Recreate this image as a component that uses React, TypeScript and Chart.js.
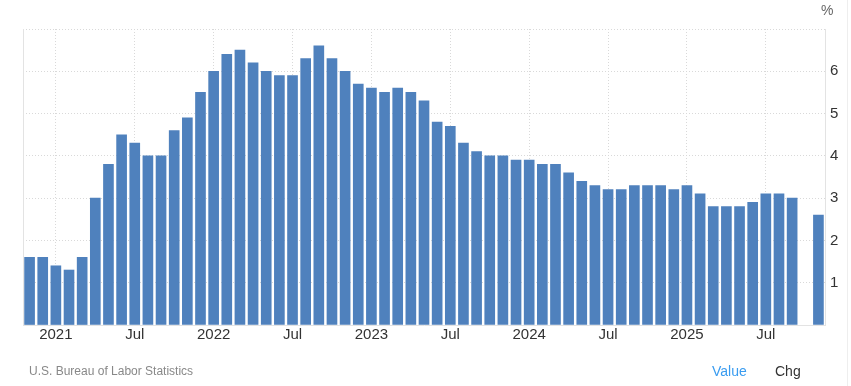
import React, { useEffect, useRef } from "react";
import { Chart, registerables } from "chart.js";

Chart.register(...registerables);

// Monthly categories, Nov 2020 .. Nov 2025
const months: string[] = [
  "2020-11", "2020-12",
  "2021-01", "2021-02", "2021-03", "2021-04", "2021-05", "2021-06", "2021-07", "2021-08", "2021-09", "2021-10", "2021-11", "2021-12",
  "2022-01", "2022-02", "2022-03", "2022-04", "2022-05", "2022-06", "2022-07", "2022-08", "2022-09", "2022-10", "2022-11", "2022-12",
  "2023-01", "2023-02", "2023-03", "2023-04", "2023-05", "2023-06", "2023-07", "2023-08", "2023-09", "2023-10", "2023-11", "2023-12",
  "2024-01", "2024-02", "2024-03", "2024-04", "2024-05", "2024-06", "2024-07", "2024-08", "2024-09", "2024-10", "2024-11", "2024-12",
  "2025-01", "2025-02", "2025-03", "2025-04", "2025-05", "2025-06", "2025-07", "2025-08", "2025-09", "2025-10", "2025-11",
];

// Core inflation rate, % YoY (Oct 2025 not published)
const values: (number | null)[] = [
  1.6, 1.6,
  1.4, 1.3, 1.6, 3.0, 3.8, 4.5, 4.3, 4.0, 4.0, 4.6, 4.9, 5.5,
  6.0, 6.4, 6.5, 6.2, 6.0, 5.9, 5.9, 6.3, 6.6, 6.3, 6.0, 5.7,
  5.6, 5.5, 5.6, 5.5, 5.3, 4.8, 4.7, 4.3, 4.1, 4.0, 4.0, 3.9,
  3.9, 3.8, 3.8, 3.6, 3.4, 3.3, 3.2, 3.2, 3.3, 3.3, 3.3, 3.2,
  3.3, 3.1, 2.8, 2.8, 2.8, 2.9, 3.1, 3.1, 3.0, null, 2.6,
];

// X tick labels keyed by category
const xTickLabels: Record<string, string> = {
  "2021-01": "2021", "2021-07": "Jul",
  "2022-01": "2022", "2022-07": "Jul",
  "2023-01": "2023", "2023-07": "Jul",
  "2024-01": "2024", "2024-07": "Jul",
  "2025-01": "2025", "2025-07": "Jul",
};

const yTicks: number[] = [1, 2, 3, 4, 5, 6];

const BAR = "#4f81bd";
const GRID = "#d9d9d9";
const FONT = "'Liberation Sans', Arial, sans-serif";

export default function App() {
  const ref = useRef<HTMLCanvasElement | null>(null);

  useEffect(() => {
    if (!ref.current) return;
    const chart = new Chart(ref.current, {
      type: "bar",
      data: {
        labels: months,
        datasets: [
          {
            data: values,
            backgroundColor: BAR,
            borderWidth: 0,
            barThickness: 10,
            yAxisID: "y",
          },
        ],
      },
      options: {
        responsive: false,
        animation: false,
        layout: { padding: { left: 23, top: 29, right: 0, bottom: 0 } },
        plugins: { legend: { display: false }, tooltip: { enabled: false } },
        scales: {
          x: {
            type: "category",
            offset: true,
            grid: {
              offset: false,
              drawTicks: false,
              color: (ctx: any) =>
                ctx.tick && xTickLabels[months[ctx.tick.value]] ? GRID : "rgba(0,0,0,0)",
            },
            border: { display: true, color: "#e3e3e3", dash: [1, 2] } as any,
            ticks: {
              autoSkip: false,
              maxRotation: 0,
              padding: 1,
              color: "#333",
              font: { size: 15, family: FONT },
              callback: (v: any) => xTickLabels[months[v as number]] || "",
            },
            afterFit: (s: any) => {
              s.height = 61;
            },
          },
          y: {
            position: "right",
            min: 0,
            max: 7,
            afterBuildTicks: (s: any) => {
              s.ticks = [0, ...yTicks, 7].map((v) => ({ value: v }));
            },
            grid: {
              drawTicks: false,
              color: (ctx: any) => (ctx.tick && ctx.tick.value === 0 ? "rgba(0,0,0,0)" : GRID),
            },
            border: { display: true, color: "#e3e3e3", dash: [1, 2] } as any,
            ticks: {
              padding: 5,
              color: "#333",
              font: { size: 15, family: FONT },
              callback: (v: any) => (yTicks.includes(v) ? String(v) : ""),
            },
            afterFit: (s: any) => {
              s.width = 26;
            },
          },
          yLeft: {
            position: "left",
            min: 0,
            max: 7,
            grid: { display: false, drawTicks: false },
            border: { display: true, color: "#e3e3e3" },
            ticks: { display: false },
            afterFit: (s: any) => {
              s.width = 0;
            },
          },
        },
      },
    });
    return () => chart.destroy();
  }, []);

  return (
    <div style={{ position: "absolute", left: 0, top: 0, width: 851, height: 386, background: "#fff", fontFamily: FONT }}>
      <canvas ref={ref} width={851} height={386} style={{ position: "absolute", left: 0, top: 0 }} />
      <div style={{ position: "absolute", left: 821, top: 2, fontSize: 14, color: "#666" }}>%</div>
      <div style={{ position: "absolute", left: 29, top: 364, fontSize: 12, color: "#888" }}>
        U.S. Bureau of Labor Statistics
      </div>
      <div style={{ position: "absolute", left: 712, top: 363, fontSize: 14, color: "#3a9cf0" }}>Value</div>
      <div style={{ position: "absolute", left: 775, top: 363, fontSize: 14, color: "#333" }}>Chg</div>
      <div style={{ position: "absolute", left: 847, top: 0, width: 1, height: 386, background: "#eeeeee" }} />
    </div>
  );
}
